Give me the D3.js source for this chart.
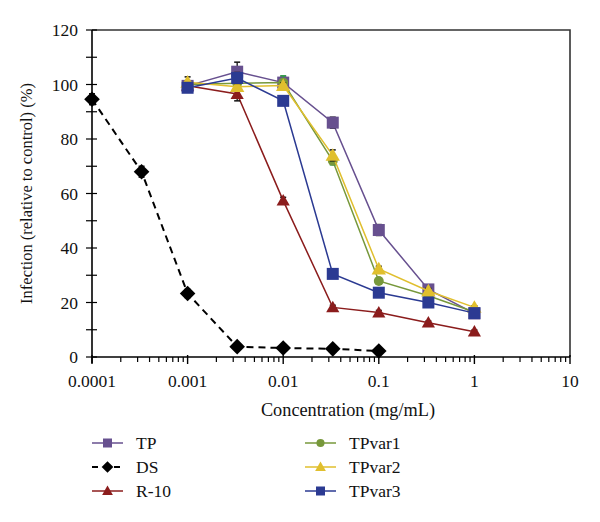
<!DOCTYPE html>
<html><head><meta charset="utf-8">
<script src="https://cdn.jsdelivr.net/npm/d3@7"></script>
<style>body{margin:0;background:#fff}svg{display:block}</style>
</head><body><svg id="c" width="600" height="522" font-family="'Liberation Serif', 'DejaVu Serif', serif"></svg>
<script>
const concentrations = [0.0001, 0.00033, 0.001, 0.0033, 0.01, 0.033, 0.1, 0.33, 1];
const xTickLabels = ["0.0001", "0.001", "0.01", "0.1", "1", "10"];
const yTickLabels = [0, 20, 40, 60, 80, 100, 120];
const seriesNames = ["TP", "DS", "R-10", "TPvar1", "TPvar2", "TPvar3"];
// values aligned with concentrations (null = not measured)
const tpValues     = [null, null, 99.5, 104.7, 100.7, 86, 46.6, 24.8, 16];
const tpErr        = [0, 0, 1.5, 3.5, 2, 2, 2, 1.5, 1];
const dsValues     = [94.6, 68, 23.3, 3.8, 3.3, 3, 2.2, null, null];
const dsErr        = [2, 2, 1.5, 0.5, 0.5, 0.5, 0.5, 0, 0];
const r10Values    = [null, null, 99.5, 96.5, 57.4, 18.2, 16.3, 12.6, 9.3];
const r10Err       = [0, 0, 1, 2.5, 1.2, 0.8, 0.8, 0.6, 0.6];
const tpvar1Values = [null, null, 100, 100.5, 100.7, 72, 27.9, 22.5, 16.5];
const tpvar1Err    = [0, 0, 1, 1, 2.5, 1.5, 1, 1, 0.5];
const tpvar2Values = [null, null, 100.8, 99.2, 99.6, 74, 32.3, 24.2, 18.2];
const tpvar2Err    = [0, 0, 2, 1, 1, 2, 1, 1, 0.6];
const tpvar3Values = [null, null, 98.8, 102.4, 94, 30.5, 23.6, 20, 16.1];
const tpvar3Err    = [0, 0, 1, 2, 1.5, 1, 1.5, 1, 0.5];

const seriesStyle = {
  "TP":     {color:"#67508f", marker:"square",   dash:null, err:"#111"},
  "DS":     {color:"#000000", marker:"diamond",  dash:"7,5", err:"#111"},
  "R-10":   {color:"#8b1c1c", marker:"triangle", dash:null, err:"#111"},
  "TPvar1": {color:"#77983b", marker:"circle",   dash:null, err:"#2f9a4a"},
  "TPvar2": {color:"#e0bf2e", marker:"triangle", dash:null, err:"#111"},
  "TPvar3": {color:"#2b3a92", marker:"square",   dash:null, err:"#111"}
};
const allValues = {"TP":[tpValues,tpErr],"DS":[dsValues,dsErr],"R-10":[r10Values,r10Err],
  "TPvar1":[tpvar1Values,tpvar1Err],"TPvar2":[tpvar2Values,tpvar2Err],"TPvar3":[tpvar3Values,tpvar3Err]};

const FS = 17.5;
const svg = d3.select("#c");
const L = 92, R = 570, T = 30, B = 357;
const x = d3.scaleLog().domain([0.0001, 10]).range([L, R]);
const y = d3.scaleLinear().domain([0, 120]).range([B, T]);

// frame
svg.append("path").attr("d", `M${L},${T}H${R}V${B}`).attr("fill","none").attr("stroke","#333").attr("stroke-width",1.6);

// y axis
const yAx = svg.append("g").attr("transform",`translate(${L},0)`);
yAx.append("line").attr("x1",0).attr("x2",0).attr("y1",T).attr("y2",B+6).attr("stroke","#000").attr("stroke-width",1.6);
d3.range(0,121,10).forEach(v=>{
  yAx.append("line").attr("x1",-6).attr("x2",5).attr("y1",y(v)).attr("y2",y(v)).attr("stroke","#000").attr("stroke-width",1.2);
});
yTickLabels.forEach(v=>{
  yAx.append("text").attr("x",-14).attr("y",y(v)).attr("dy","0.35em").attr("text-anchor","end").attr("font-size",FS).attr("fill","#111").text(v);
});

// x axis
const xAx = svg.append("g");
xAx.append("line").attr("x1",L).attr("x2",R).attr("y1",B).attr("y2",B).attr("stroke","#000").attr("stroke-width",1.6);
const minors = [];
for (let e=-4;e<1;e++) for (let m=2;m<=9;m++) minors.push(m*Math.pow(10,e));
minors.forEach(v=>{
  xAx.append("line").attr("x1",x(v)).attr("x2",x(v)).attr("y1",B).attr("y2",B+5).attr("stroke","#000").attr("stroke-width",1.2);
});
xTickLabels.forEach(s=>{
  const v = +s;
  xAx.append("line").attr("x1",x(v)).attr("x2",x(v)).attr("y1",B-2).attr("y2",B+7).attr("stroke","#000").attr("stroke-width",1.4);
  xAx.append("text").attr("x",x(v)).attr("y",B+30).attr("text-anchor","middle").attr("font-size",FS).attr("fill","#111").text(s);
});
svg.append("text").attr("x",348).attr("y",416).attr("text-anchor","middle").attr("font-size",18.3).attr("fill","#111").text("Concentration (mg/mL)");
svg.append("text").attr("transform",`translate(32,${(T+B)/2}) rotate(-90)`).attr("text-anchor","middle").attr("font-size",16.5).attr("fill","#111").text("Infection (relative to control) (%)");

function marker(g, type, cx, cy, s, color){
  if (type==="square") g.append("rect").attr("x",cx-s/2).attr("y",cy-s/2).attr("width",s).attr("height",s).attr("fill",color);
  else if (type==="circle") g.append("circle").attr("cx",cx).attr("cy",cy).attr("r",s*0.45).attr("fill",color);
  else if (type==="triangle") g.append("path").attr("d",`M${cx},${cy-s*0.6}L${cx+s*0.6},${cy+s*0.45}L${cx-s*0.6},${cy+s*0.45}Z`).attr("fill",color);
  else if (type==="diamond") g.append("path").attr("d",`M${cx},${cy-s*0.65}L${cx+s*0.65},${cy}L${cx},${cy+s*0.65}L${cx-s*0.65},${cy}Z`).attr("fill",color);
}

const drawOrder = ["DS","R-10","TP","TPvar1","TPvar2","TPvar3"];
const sizes = {"TP":12,"DS":12,"R-10":11,"TPvar1":11,"TPvar2":12,"TPvar3":12};
const line = d3.line().defined(d=>d.v!==null).x(d=>x(d.c)).y(d=>y(d.v));
drawOrder.forEach(name=>{
  const st = seriesStyle[name];
  const [vals, errs] = allValues[name];
  const data = concentrations.map((c,i)=>({c, v:vals[i], e:errs[i]}));
  const g = svg.append("g");
  g.append("path").datum(data.filter(d=>d.v!==null)).attr("d",line).attr("fill","none")
    .attr("stroke",st.color).attr("stroke-width",name==="DS"?2:1.5).attr("stroke-dasharray",st.dash);
  data.filter(d=>d.v!==null && d.e>0).forEach(d=>{
    const cx=x(d.c);
    g.append("line").attr("x1",cx).attr("x2",cx).attr("y1",y(d.v+d.e)).attr("y2",y(d.v-d.e)).attr("stroke",st.err).attr("stroke-width",1.3);
    [d.v+d.e,d.v-d.e].forEach(vv=>g.append("line").attr("x1",cx-3).attr("x2",cx+3).attr("y1",y(vv)).attr("y2",y(vv)).attr("stroke",st.err).attr("stroke-width",1.5));
  });
  data.filter(d=>d.v!==null).forEach(d=>marker(g, st.marker, x(d.c), y(d.v), sizes[name], st.color));
});

// legend
const legPos = [[92,443],[92,467],[92,491],[305,443],[305,467],[305,491]];
seriesNames.forEach((name,i)=>{
  const st = seriesStyle[name];
  const [lx,ly] = legPos[i];
  const g = svg.append("g");
  g.append("line").attr("x1",lx).attr("x2",lx+31).attr("y1",ly).attr("y2",ly).attr("stroke",st.color)
    .attr("stroke-width",name==="DS"?2:1.5).attr("stroke-dasharray",name==="DS"?"6,5":null);
  marker(g, st.marker, lx+15.5, ly, 9, st.color);
  g.append("text").attr("x",lx+44).attr("y",ly).attr("dy","0.35em").attr("font-size",FS).attr("fill","#111").text(name);
});
</script></body></html>
